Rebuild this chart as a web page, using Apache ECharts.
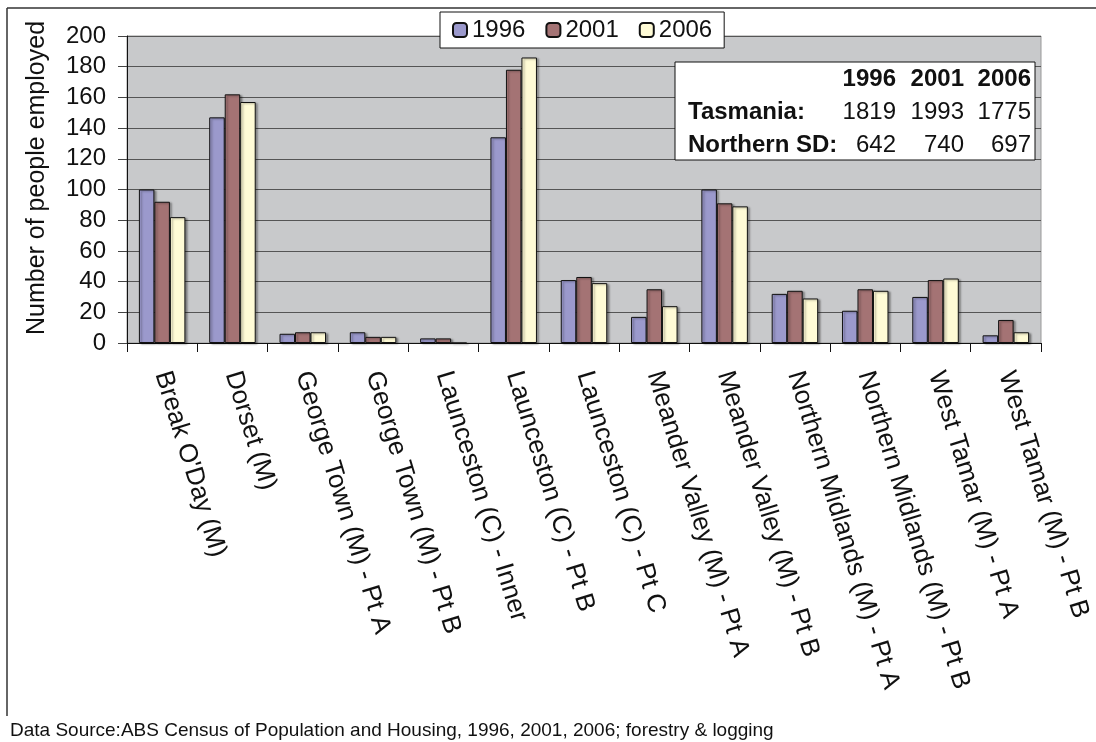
<!DOCTYPE html>
<html lang="en">
<head>
    <meta charset="UTF-8">
    <script src="https://cdn.jsdelivr.net/npm/echarts@6/dist/echarts.min.js"></script>
    <title>Forestry employment</title>
    <style type="text/css">
        html, body { margin: 0; padding: 0; background: #fff; }
        #chart { width: 1096px; height: 742px; }
    </style>
</head>
<body>
<div id="chart"></div>

<script type="text/javascript">
    // areas in the Northern SD
    const categories = ["Break O'Day (M)", "Dorset (M)", "George Town (M) - Pt A", "George Town (M) - Pt B",
        "Launceston (C) - Inner", "Launceston (C) - Pt B", "Launceston (C) - Pt C", "Meander Valley (M) - Pt A",
        "Meander Valley (M) - Pt B", "Northern Midlands (M) - Pt A", "Northern Midlands (M) - Pt B",
        "West Tamar (M) - Pt A", "West Tamar (M) - Pt B"];
    const years = ['1996', '2001', '2006'];
    const y1996 = [100, 147, 6, 7, 3, 134, 41, 17, 100, 32, 21, 30, 5];
    const y2001 = [92, 162, 7, 4, 3, 178, 43, 35, 91, 34, 35, 41, 15];
    const y2006 = [82, 157, 7, 4, 0, 186, 39, 24, 89, 29, 34, 42, 7];
    const yTicks = [0, 20, 40, 60, 80, 100, 120, 140, 160, 180, 200];

    // totals box
    const totalRows = ['Tasmania:', 'Northern SD:'];
    const tasmania = [1819, 1993, 1775];
    const northernSD = [642, 740, 697];

    const colors = ['#9B99CC', '#A47374', '#FFFBD6'];
    const font = 'Liberation Sans, Arial, sans-serif';

    const myChart = echarts.init(document.getElementById('chart'));

    function barSeries(name, data, color) {
        return {
            name: name,
            type: 'bar',
            data: data,
            barWidth: 15.5,
            barGap: '0%',
            itemStyle: {
                color: color,
                borderColor: '#111',
                borderWidth: 1,
                shadowColor: 'rgba(0,0,0,0.35)',
                shadowBlur: 2,
                shadowOffsetX: 2,
                shadowOffsetY: 1
            }
        };
    }

    // the little totals table, top right
    const colRight = [896, 964, 1031];
    const rowY = [79, 112, 145];
    const tableGraphics = [{
        type: 'rect',
        shape: {x: 675, y: 62, width: 360, height: 98},
        style: {fill: '#fff', stroke: '#111', lineWidth: 1},
        z: 10
    }];
    years.forEach(function (y, i) {
        tableGraphics.push({
            type: 'text', x: colRight[i], y: rowY[0], z: 11,
            style: {text: y, font: 'bold 24px ' + font, fill: '#111', align: 'right', verticalAlign: 'middle'}
        });
    });
    [tasmania, northernSD].forEach(function (row, r) {
        tableGraphics.push({
            type: 'text', x: 688, y: rowY[r + 1], z: 11,
            style: {text: totalRows[r], font: 'bold 24px ' + font, fill: '#111', align: 'left', verticalAlign: 'middle'}
        });
        row.forEach(function (v, i) {
            tableGraphics.push({
                type: 'text', x: colRight[i], y: rowY[r + 1], z: 11,
                style: {text: String(v), font: '24px ' + font, fill: '#111', align: 'right', verticalAlign: 'middle'}
            });
        });
    });

    const option = {
        animation: false,
        backgroundColor: '#fff',
        textStyle: {fontFamily: font},
        grid: {
            left: 127, right: 55, top: 36, bottom: 399,
            outerBoundsMode: 'none',
            show: true,
            backgroundColor: '#C8C9CB',
            borderColor: '#999',
            borderWidth: 1
        },
        legend: {
            data: years,
            left: 440,
            top: 12,
            itemWidth: 14,
            itemHeight: 14,
            itemGap: 20,
            padding: [6, 12],
            backgroundColor: '#fff',
            borderColor: '#111',
            borderWidth: 1,
            textStyle: {fontSize: 24, color: '#111', fontFamily: font}
        },
        xAxis: {
            type: 'category',
            data: categories,
            boundaryGap: true,
            axisLine: {lineStyle: {color: '#111', width: 1}},
            axisTick: {show: true, length: 9, lineStyle: {color: '#111'}},
            axisLabel: {
                interval: 0,
                rotate: -73,
                margin: 29,
                fontSize: 26,
                color: '#111',
                fontFamily: font
            },
            splitLine: {show: false}
        },
        yAxis: {
            type: 'value',
            min: 0,
            max: 200,
            interval: 20,
            axisLine: {show: true, lineStyle: {color: '#111', width: 1}},
            axisTick: {show: true, length: 9, lineStyle: {color: '#444'}},
            axisLabel: {
                margin: 21,
                fontSize: 24,
                color: '#111',
                fontFamily: font,
                formatter: function (v) { return yTicks.indexOf(v) >= 0 ? String(v) : ''; }
            },
            splitLine: {show: true, lineStyle: {color: '#555', width: 1}}
        },
        series: [
            barSeries(years[0], y1996, colors[0]),
            barSeries(years[1], y2001, colors[1]),
            barSeries(years[2], y2006, colors[2])
        ],
        graphic: [
            {type: 'line', shape: {x1: 7, y1: 8, x2: 1096, y2: 8}, style: {stroke: '#333', lineWidth: 1.5}},
            {type: 'line', shape: {x1: 7, y1: 8, x2: 7, y2: 716}, style: {stroke: '#333', lineWidth: 1.5}},
            {
                type: 'text', x: 37, y: 178, rotation: Math.PI / 2,
                style: {text: 'Number of people employed', font: '25px ' + font, fill: '#111',
                    align: 'center', verticalAlign: 'middle'}
            },
            {
                type: 'text', x: 10, y: 731,
                style: {text: 'Data Source:ABS Census of Population and Housing, 1996, 2001, 2006; forestry & logging',
                    font: '19px ' + font, fill: '#111', align: 'left', verticalAlign: 'middle'}
            }
        ].concat(tableGraphics)
    };

    myChart.setOption(option);
</script>
</body>
</html>
